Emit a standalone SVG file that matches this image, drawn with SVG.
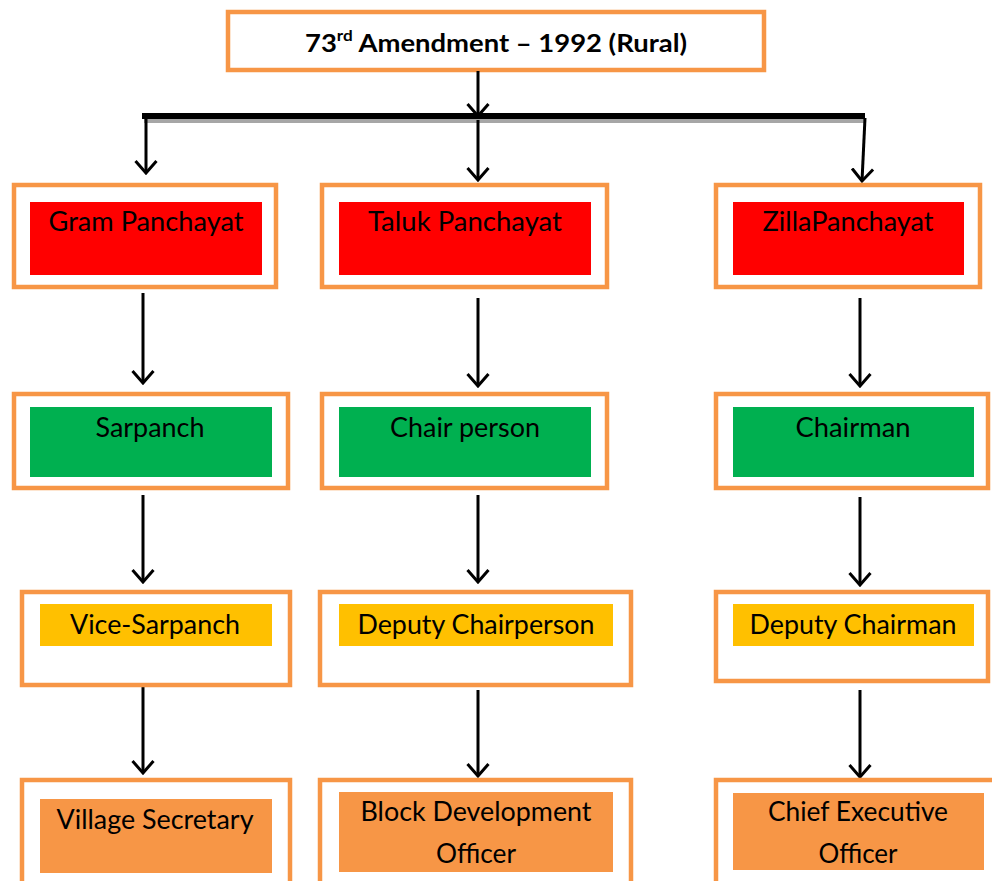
<svg xmlns="http://www.w3.org/2000/svg" width="992" height="881" viewBox="0 0 992 881">
<defs>
<marker id="arr" viewBox="0 0 15 24" refX="13" refY="12" markerWidth="15" markerHeight="24" markerUnits="userSpaceOnUse" orient="auto">
<path d="M1,1.5 L13,12 L1,22.5" fill="none" stroke="#000" stroke-width="3"/>
</marker>
<style>
.ob{fill:#fff;stroke:#F79646;stroke-width:4.5}
.red{fill:#FF0000}
.grn{fill:#00B050}
.yel{fill:#FFC000}
.org{fill:#F79646}
.t{font-family:Lato,"Open Sans","Liberation Sans",sans-serif;font-size:26px;fill:#000;text-anchor:middle}
.tt{font-family:Lato,"Open Sans","Liberation Sans",sans-serif;font-size:24px;font-weight:bold;fill:#000}
.c{stroke:#000;stroke-width:3;fill:none;marker-end:url(#arr)}
</style>
</defs>
<rect width="992" height="881" fill="#fff"/>

<g id="title">
<rect class="ob" x="228" y="12" width="536" height="58"/>
<text class="tt" x="305" y="52" textLength="382" lengthAdjust="spacingAndGlyphs">73<tspan font-size="15" dy="-11">rd</tspan><tspan dy="11"> Amendment – 1992 (Rural)</tspan></text>
</g>

<g id="connectors">
<rect x="144" y="118" width="722" height="5" fill="#A6A6A6"/>
<rect x="142" y="113" width="723" height="6" fill="#000"/>
<line class="c" x1="478" y1="71" x2="478" y2="116"/>
<line class="c" x1="146" y1="118" x2="146" y2="173"/>
<line class="c" x1="478" y1="120" x2="478" y2="180"/>
<line class="c" x1="865" y1="118" x2="862" y2="181"/>
<line class="c" x1="143" y1="293" x2="143" y2="383"/>
<line class="c" x1="478" y1="298" x2="478" y2="386"/>
<line class="c" x1="860" y1="298" x2="860" y2="386"/>
<line class="c" x1="143" y1="495" x2="143" y2="582"/>
<line class="c" x1="478" y1="495" x2="478" y2="582"/>
<line class="c" x1="860" y1="497" x2="860" y2="585"/>
<line class="c" x1="143" y1="686" x2="143" y2="773"/>
<line class="c" x1="478" y1="690" x2="478" y2="776"/>
<line class="c" x1="860" y1="690" x2="860" y2="777"/>
</g>

<g id="gram">
<rect class="ob" x="14" y="185" width="262" height="102"/>
<rect class="red" x="30" y="202" width="232" height="73"/>
<text class="t" x="146" y="231" textLength="195" lengthAdjust="spacingAndGlyphs">Gram Panchayat</text>
</g>
<g id="taluk">
<rect class="ob" x="322" y="185" width="285" height="102"/>
<rect class="red" x="339" y="202" width="252" height="73"/>
<text class="t" x="465" y="231" textLength="194" lengthAdjust="spacingAndGlyphs">Taluk Panchayat</text>
</g>
<g id="zilla">
<rect class="ob" x="716" y="185" width="264" height="102"/>
<rect class="red" x="733" y="202" width="231" height="73"/>
<text class="t" x="848" y="231" textLength="171" lengthAdjust="spacingAndGlyphs">ZillaPanchayat</text>
</g>

<g id="sarpanch">
<rect class="ob" x="14" y="394" width="274" height="94"/>
<rect class="grn" x="30" y="407" width="242" height="70"/>
<text class="t" x="150" y="437" textLength="109" lengthAdjust="spacingAndGlyphs">Sarpanch</text>
</g>
<g id="chairperson">
<rect class="ob" x="322" y="394" width="285" height="94"/>
<rect class="grn" x="339" y="407" width="252" height="70"/>
<text class="t" x="465" y="437" textLength="150" lengthAdjust="spacingAndGlyphs">Chair person</text>
</g>
<g id="chairman">
<rect class="ob" x="716" y="394" width="272" height="94"/>
<rect class="grn" x="733" y="407" width="241" height="70"/>
<text class="t" x="853" y="437" textLength="115" lengthAdjust="spacingAndGlyphs">Chairman</text>
</g>

<g id="vicesarpanch">
<rect class="ob" x="22" y="592" width="268" height="93"/>
<rect class="yel" x="40" y="604" width="232" height="42"/>
<text class="t" x="155" y="634" textLength="170" lengthAdjust="spacingAndGlyphs">Vice-Sarpanch</text>
</g>
<g id="deputychairperson">
<rect class="ob" x="320" y="592" width="311" height="93"/>
<rect class="yel" x="339" y="604" width="274" height="42"/>
<text class="t" x="476" y="634" textLength="237" lengthAdjust="spacingAndGlyphs">Deputy Chairperson</text>
</g>
<g id="deputychairman">
<rect class="ob" x="716" y="592" width="272" height="89"/>
<rect class="yel" x="733" y="604" width="241" height="42"/>
<text class="t" x="853" y="634" textLength="207" lengthAdjust="spacingAndGlyphs">Deputy Chairman</text>
</g>

<g id="villagesecretary">
<rect class="ob" x="22" y="780" width="268" height="110"/>
<rect class="org" x="40" y="799" width="232" height="74"/>
<text class="t" x="155" y="829" textLength="197" lengthAdjust="spacingAndGlyphs">Village Secretary</text>
</g>
<g id="bdo">
<rect class="ob" x="320" y="780" width="311" height="110"/>
<rect class="org" x="339" y="792" width="274" height="80"/>
<text class="t" x="476" y="821" textLength="231" lengthAdjust="spacingAndGlyphs">Block Development</text>
<text class="t" x="476" y="863" textLength="80" lengthAdjust="spacingAndGlyphs">Officer</text>
</g>
<g id="ceo">
<rect class="ob" x="716" y="780" width="290" height="110"/>
<rect class="org" x="733" y="793" width="251" height="77"/>
<text class="t" x="858" y="821" textLength="180" lengthAdjust="spacingAndGlyphs">Chief Executive</text>
<text class="t" x="858" y="863" textLength="79" lengthAdjust="spacingAndGlyphs">Officer</text>
</g>
</svg>
